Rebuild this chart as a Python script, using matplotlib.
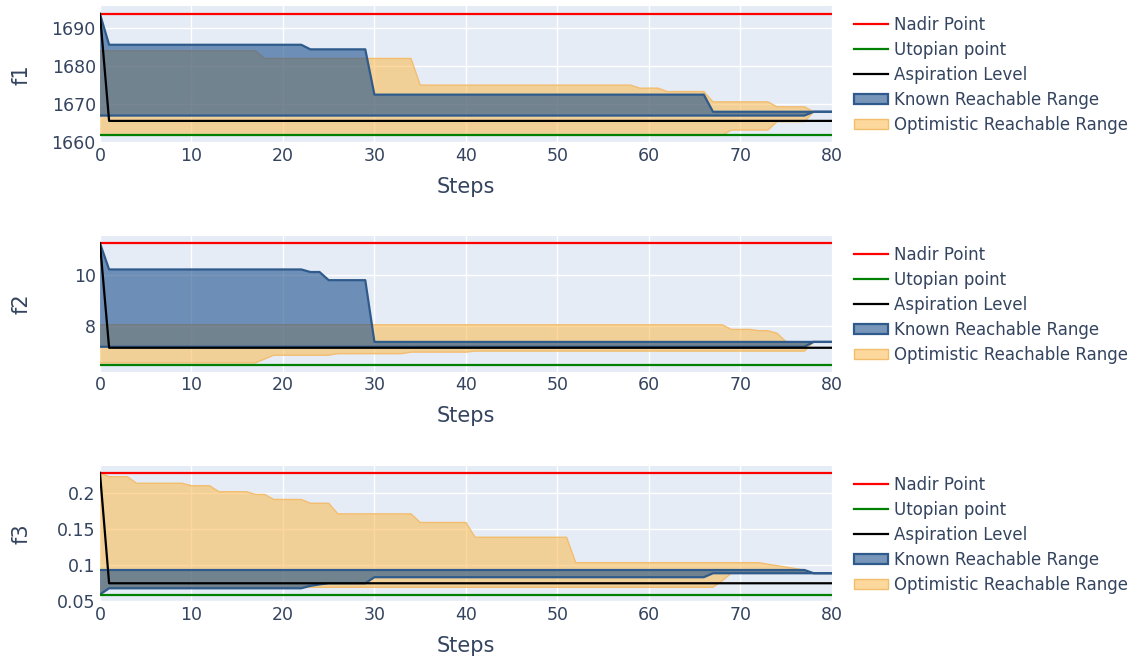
import numpy as np
import matplotlib.pyplot as plt
from matplotlib.lines import Line2D
from matplotlib.patches import Patch

# steps on the x axis
steps = np.arange(81)

# values, stored as (level, number of steps at that level)
f1_nadir = 1693.7
f1_utopian = 1661.8
f1_asp = ([1693.7, 1665.6], [1, 80])
f1_known_hi = ([1693.7, 1685.6, 1684.4, 1672.5, 1668.0], [1, 22, 7, 37, 14])
f1_known_lo = ([1667.0, 1668.0], [78, 3])
f1_opt_hi = ([1684.0, 1682.0, 1675.0, 1674.2, 1673.3, 1670.6, 1669.3, 1668.0],
             [18, 17, 24, 3, 5, 7, 4, 3])
f1_opt_lo = ([1661.8, 1663.2, 1665.4, 1668.0], [69, 5, 4, 3])

f2_nadir = 11.25
f2_utopian = 6.47
f2_asp = ([11.25, 7.15], [1, 80])
f2_known_hi = ([11.25, 10.22, 10.12, 9.80, 7.38], [1, 22, 2, 5, 51])
f2_known_lo = ([7.19, 7.38], [78, 3])
f2_opt_hi = ([8.05, 7.87, 7.82, 7.72, 7.38], [69, 3, 2, 1, 6])
f2_opt_lo = ([6.56, 6.71, 6.86, 6.92, 6.98, 7.02, 7.38], [18, 1, 7, 8, 7, 37, 3])

f3_nadir = 0.228
f3_utopian = 0.058
f3_asp = ([0.228, 0.0746], [1, 80])
f3_known_hi = ([0.093, 0.0885], [78, 3])
f3_known_lo = ([0.059, 0.0676, 0.071, 0.073, 0.0746, 0.083, 0.0885],
               [1, 22, 1, 1, 5, 37, 14])
f3_opt_hi = ([0.228, 0.2226, 0.2135, 0.210, 0.2018, 0.198, 0.191, 0.1857, 0.171,
              0.159, 0.1385, 0.1032, 0.101, 0.099, 0.097, 0.095, 0.093, 0.0885],
             [1, 3, 6, 3, 4, 2, 4, 3, 9, 6, 11, 21, 1, 1, 1, 1, 1, 3])
f3_opt_lo = ([0.058, 0.069, 0.078, 0.0885], [1, 67, 1, 12])

ylabels = ['f1', 'f2', 'f3']
ylims = [(1659.8, 1695.8), (6.2, 11.53), (0.0486, 0.2375)]
yticks = [[1660, 1670, 1680, 1690], [8, 10], [0.05, 0.1, 0.15, 0.2]]
ytick_labels = [['1660', '1670', '1680', '1690'], ['8', '10'],
                ['0.05', '0.1', '0.15', '0.2']]
xticks = [0, 10, 20, 30, 40, 50, 60, 70, 80]

objectives = [
    (f1_nadir, f1_utopian, f1_asp, f1_known_hi, f1_known_lo, f1_opt_hi, f1_opt_lo),
    (f2_nadir, f2_utopian, f2_asp, f2_known_hi, f2_known_lo, f2_opt_hi, f2_opt_lo),
    (f3_nadir, f3_utopian, f3_asp, f3_known_hi, f3_known_lo, f3_opt_hi, f3_opt_lo),
]


def expand(series):
    vals, runs = series
    return np.repeat(vals, runs)


text_color = '#34445f'
bg = '#e5ecf6'
blue_line = '#2f5b8c'
blue_fill = (30 / 255, 80 / 255, 140 / 255, 0.6)
orange_line = '#f3bd6e'
orange_fill = (250 / 255, 190 / 255, 90 / 255, 0.6)

fig = plt.figure(figsize=(11.41, 6.61), dpi=100)
axes_pos = [(0.0876, 0.7837, 0.6415, 0.2073),
            (0.0876, 0.4372, 0.6415, 0.2057),
            (0.0876, 0.0893, 0.6415, 0.2057)]

for i, (nadir, utop, asp, khi, klo, ohi, olo) in enumerate(objectives):
    ax = fig.add_axes(axes_pos[i])
    ax.set_facecolor(bg)
    for s in ax.spines.values():
        s.set_visible(False)
    ax.grid(True, color='white', linewidth=1)
    ax.set_axisbelow(True)

    # optimistic range first, known range on top of it
    ax.fill_between(steps, expand(olo), expand(ohi), facecolor=orange_fill,
                    edgecolor='none', zorder=1)
    ax.plot(steps, expand(olo), color=orange_line, lw=1, zorder=1.2)
    ax.plot(steps, expand(ohi), color=orange_line, lw=1, zorder=1.2)
    ax.fill_between(steps, expand(klo), expand(khi), facecolor=blue_fill,
                    edgecolor='none', zorder=2)
    ax.plot(steps, expand(klo), color=blue_line, lw=1.6, zorder=3)
    ax.plot(steps, expand(khi), color=blue_line, lw=1.6, zorder=3)

    ax.plot(steps, np.full(len(steps), nadir), color='red', lw=1.6, zorder=4)
    ax.plot(steps, np.full(len(steps), utop), color='green', lw=1.6, zorder=4)
    ax.plot(steps, expand(asp), color='black', lw=1.6, zorder=4)

    ax.set_xlim(0, 80)
    ax.set_ylim(*ylims[i])
    ax.set_xticks(xticks)
    ax.set_yticks(yticks[i])
    ax.set_yticklabels(ytick_labels[i])
    ax.tick_params(length=0, pad=3, labelsize=12.5, colors=text_color)

    ax.set_xlabel('Steps', fontsize=15, color=text_color)
    ax.xaxis.set_label_coords(0.5, -0.25)
    ax.set_ylabel(ylabels[i], fontsize=15, color=text_color)
    ax.yaxis.set_label_coords(-0.093, 0.5)

    handles = [
        Line2D([], [], color='red', lw=1.6),
        Line2D([], [], color='green', lw=1.6),
        Line2D([], [], color='black', lw=1.6),
        Patch(facecolor=blue_fill, edgecolor=blue_line, lw=1.6),
        Patch(facecolor=orange_fill, edgecolor=orange_line, lw=1),
    ]
    labels = ['Nadir Point', 'Utopian point', 'Aspiration Level',
              'Known Reachable Range', 'Optimistic Reachable Range']
    leg = ax.legend(handles, labels, loc='upper left', bbox_to_anchor=(1.024, 0.965),
                    frameon=False, fontsize=12, handlelength=2.0,
                    handleheight=0.5, handletextpad=0.4, labelspacing=0.42,
                    borderpad=0.3, borderaxespad=0)
    for t in leg.get_texts():
        t.set_color(text_color)

fig.savefig('out.png', dpi=100)
